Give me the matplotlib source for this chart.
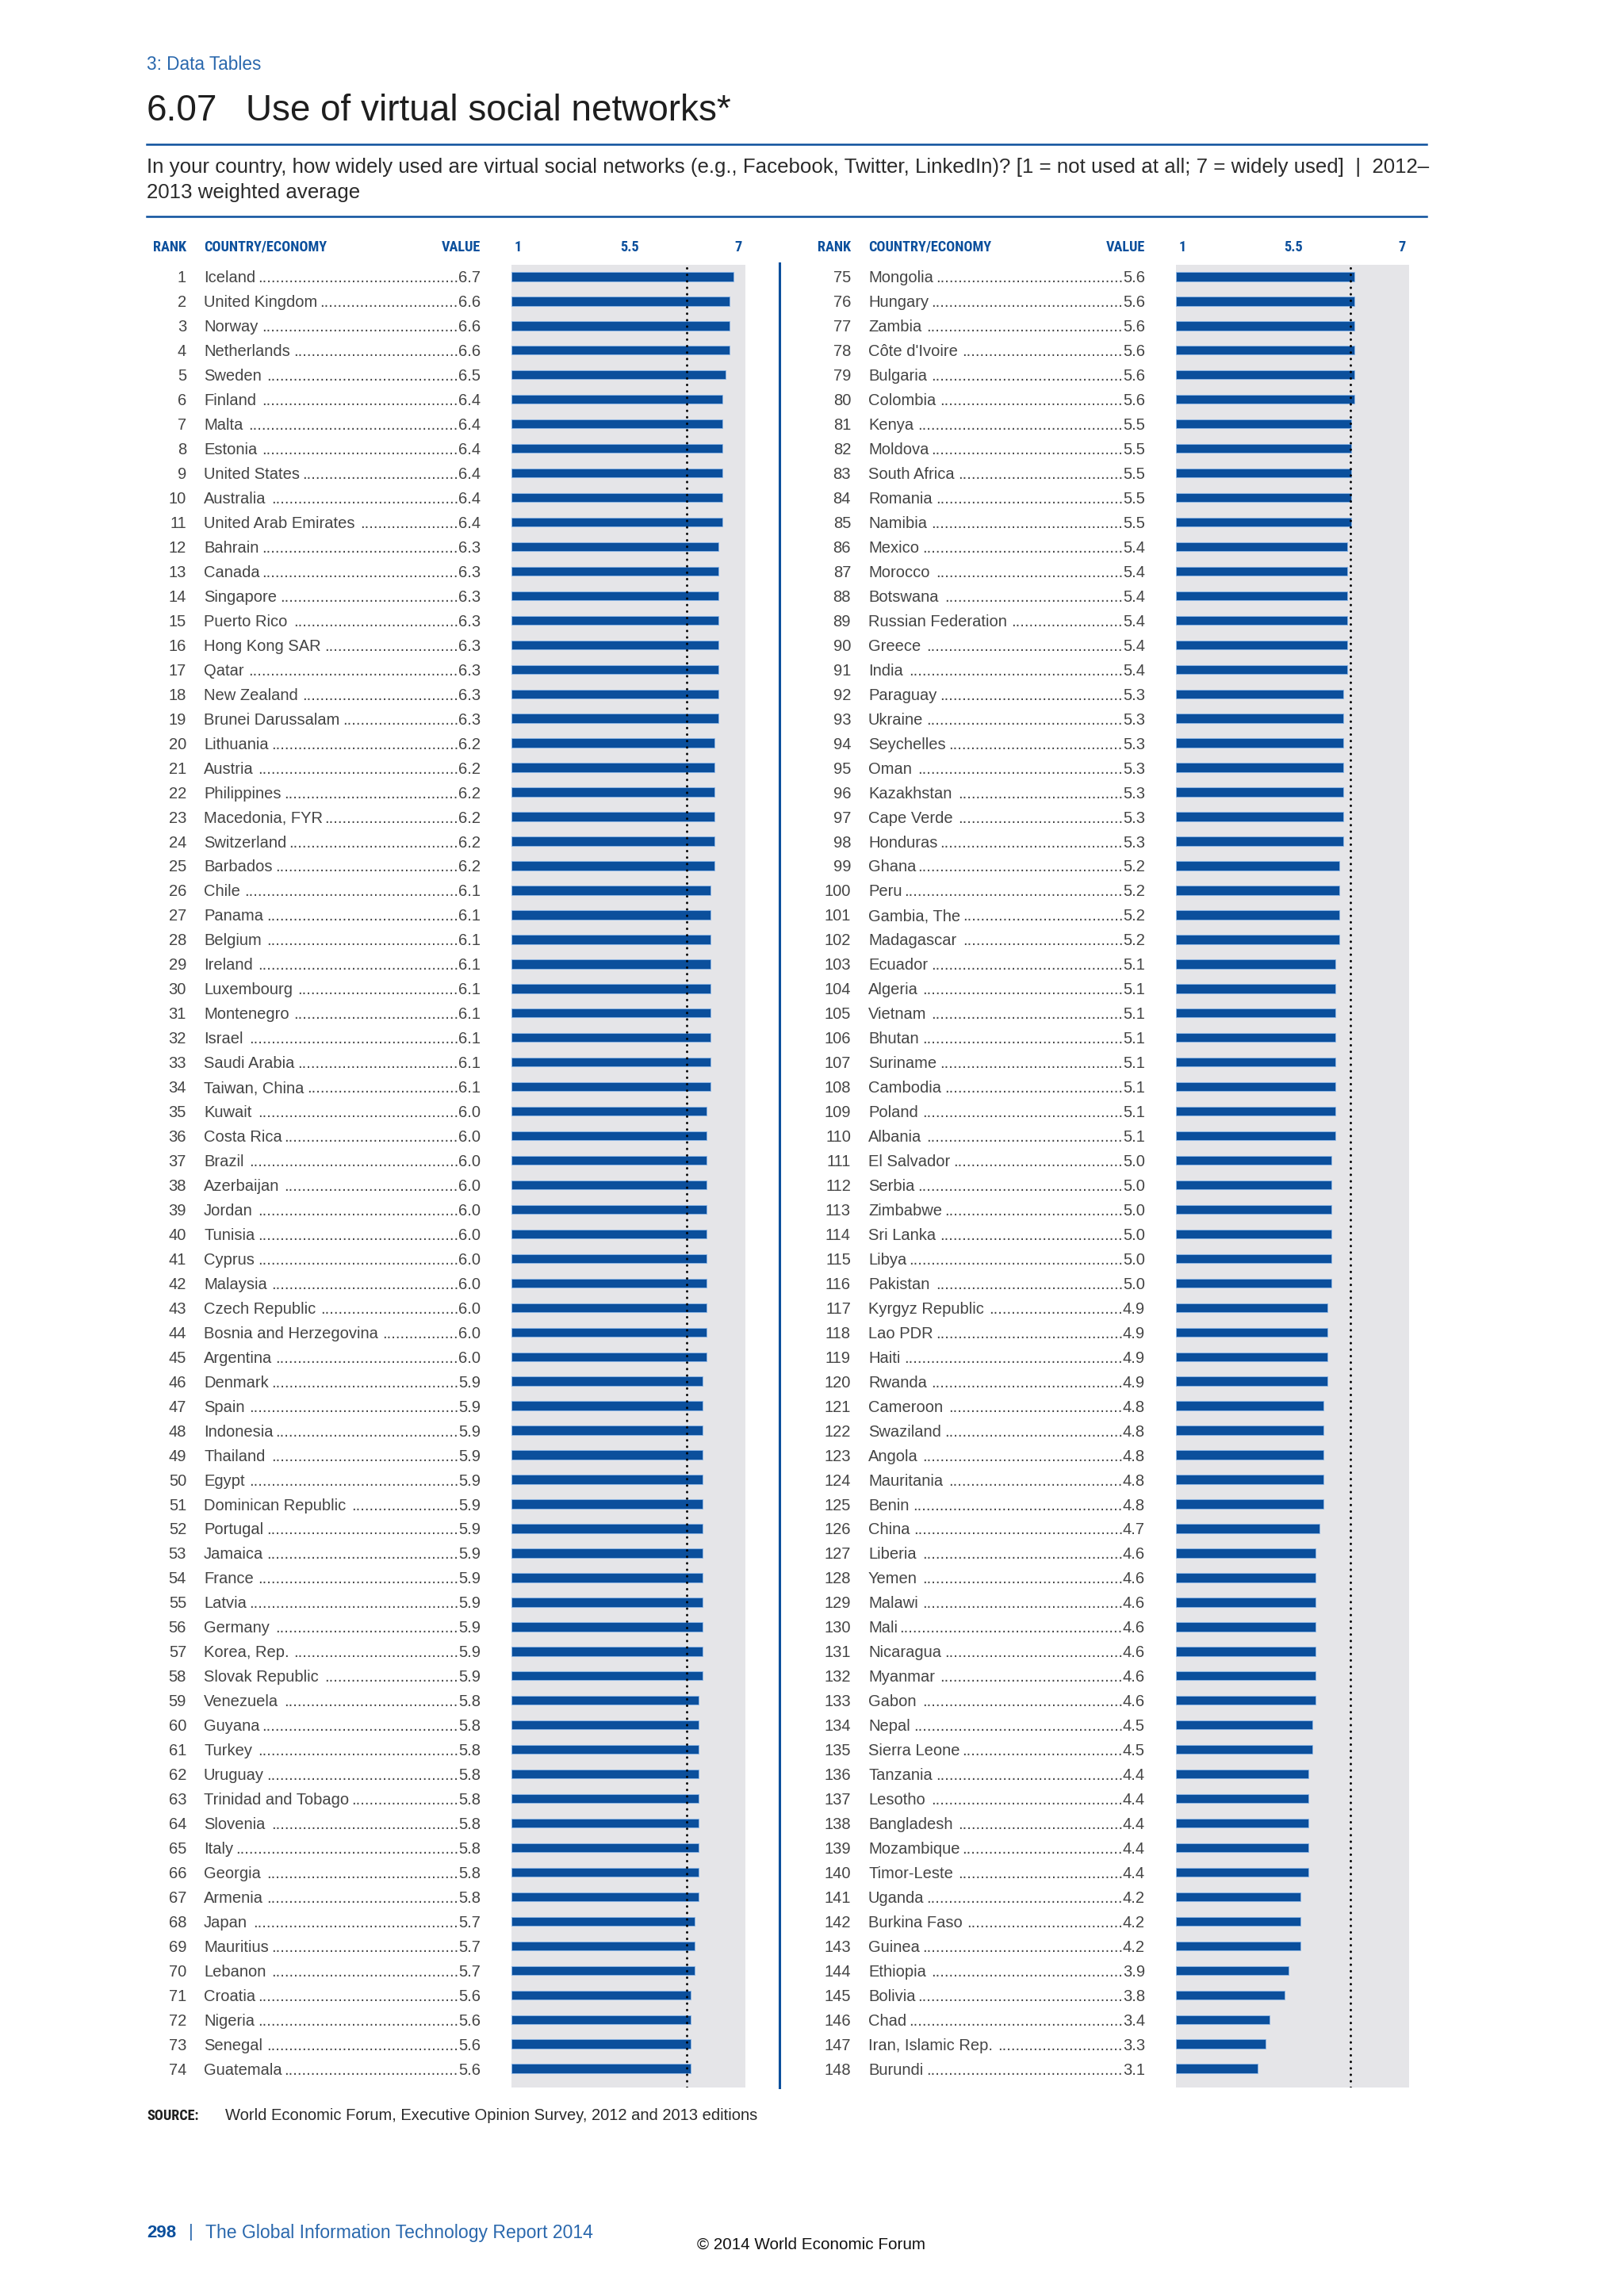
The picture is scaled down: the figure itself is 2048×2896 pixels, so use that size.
import matplotlib.pyplot as plt
from matplotlib import font_manager
from matplotlib.font_manager import FontProperties
from matplotlib.transforms import blended_transform_factory

plt.rcParams['font.family'] = ['Liberation Sans', 'DejaVu Sans']

countries = [
    "Iceland", "United Kingdom", "Norway", "Netherlands", "Sweden", "Finland",
    "Malta", "Estonia", "United States", "Australia", "United Arab Emirates",
    "Bahrain", "Canada", "Singapore", "Puerto Rico", "Hong Kong SAR", "Qatar",
    "New Zealand", "Brunei Darussalam", "Lithuania", "Austria", "Philippines",
    "Macedonia, FYR", "Switzerland", "Barbados", "Chile", "Panama", "Belgium",
    "Ireland", "Luxembourg", "Montenegro", "Israel", "Saudi Arabia",
    "Taiwan, China", "Kuwait", "Costa Rica", "Brazil", "Azerbaijan", "Jordan",
    "Tunisia", "Cyprus", "Malaysia", "Czech Republic", "Bosnia and Herzegovina",
    "Argentina", "Denmark", "Spain", "Indonesia", "Thailand", "Egypt",
    "Dominican Republic", "Portugal", "Jamaica", "France", "Latvia", "Germany",
    "Korea, Rep.", "Slovak Republic", "Venezuela", "Guyana", "Turkey", "Uruguay",
    "Trinidad and Tobago", "Slovenia", "Italy", "Georgia", "Armenia", "Japan",
    "Mauritius", "Lebanon", "Croatia", "Nigeria", "Senegal", "Guatemala",
    "Mongolia", "Hungary", "Zambia", "Côte d'Ivoire", "Bulgaria", "Colombia",
    "Kenya", "Moldova", "South Africa", "Romania", "Namibia", "Mexico",
    "Morocco", "Botswana", "Russian Federation", "Greece", "India", "Paraguay",
    "Ukraine", "Seychelles", "Oman", "Kazakhstan", "Cape Verde", "Honduras",
    "Ghana", "Peru", "Gambia, The", "Madagascar", "Ecuador", "Algeria",
    "Vietnam", "Bhutan", "Suriname", "Cambodia", "Poland", "Albania",
    "El Salvador", "Serbia", "Zimbabwe", "Sri Lanka", "Libya", "Pakistan",
    "Kyrgyz Republic", "Lao PDR", "Haiti", "Rwanda", "Cameroon", "Swaziland",
    "Angola", "Mauritania", "Benin", "China", "Liberia", "Yemen", "Malawi",
    "Mali", "Nicaragua", "Myanmar", "Gabon", "Nepal", "Sierra Leone",
    "Tanzania", "Lesotho", "Bangladesh", "Mozambique", "Timor-Leste", "Uganda",
    "Burkina Faso", "Guinea", "Ethiopia", "Bolivia", "Chad",
    "Iran, Islamic Rep.", "Burundi",
]
values = [
    6.7, 6.6, 6.6, 6.6, 6.5, 6.4, 6.4, 6.4, 6.4, 6.4, 6.4,
    6.3, 6.3, 6.3, 6.3, 6.3, 6.3, 6.3, 6.3, 6.2, 6.2, 6.2,
    6.2, 6.2, 6.2, 6.1, 6.1, 6.1, 6.1, 6.1, 6.1, 6.1, 6.1,
    6.1, 6.0, 6.0, 6.0, 6.0, 6.0, 6.0, 6.0, 6.0, 6.0, 6.0,
    6.0, 5.9, 5.9, 5.9, 5.9, 5.9, 5.9, 5.9, 5.9, 5.9, 5.9, 5.9,
    5.9, 5.9, 5.8, 5.8, 5.8, 5.8, 5.8, 5.8, 5.8, 5.8, 5.8, 5.7,
    5.7, 5.7, 5.6, 5.6, 5.6, 5.6,
    5.6, 5.6, 5.6, 5.6, 5.6, 5.6, 5.5, 5.5, 5.5, 5.5, 5.5, 5.4,
    5.4, 5.4, 5.4, 5.4, 5.4, 5.3, 5.3, 5.3, 5.3, 5.3, 5.3, 5.3,
    5.2, 5.2, 5.2, 5.2, 5.1, 5.1, 5.1, 5.1, 5.1, 5.1, 5.1, 5.1,
    5.0, 5.0, 5.0, 5.0, 5.0, 5.0, 4.9, 4.9, 4.9, 4.9, 4.8, 4.8,
    4.8, 4.8, 4.8, 4.7, 4.6, 4.6, 4.6, 4.6, 4.6, 4.6, 4.6, 4.5, 4.5,
    4.4, 4.4, 4.4, 4.4, 4.4, 4.2, 4.2, 4.2, 3.9, 3.8, 3.4, 3.3, 3.1,
]
ranks = list(range(1, len(countries) + 1))
mean_value = 5.49
scale_ticks = ["1", "5.5", "7"]

W, H = 2048, 2896
fig = plt.figure(figsize=(W / 100, H / 100), dpi=100)
page = fig.add_axes([0, 0, 1, 1])
page.set_xlim(0, W)
page.set_ylim(H, 0)
page.axis('off')
renderer = fig.canvas.get_renderer()

BLUE = '#0b4f9c'
LINK = '#2a68ad'
TXT = '#444444'
GRAY = '#e5e5e8'

# look for a condensed bold face for the small caps headings
cond_file = None
for f in font_manager.fontManager.ttflist:
    nm = f.name.lower()
    narrowish = ('narrow' in nm or 'condensed' in nm
                 or f.stretch in ('condensed', 'semi-condensed', 'extra-condensed'))
    if narrowish and f.weight in ('bold', 700, 'semibold', 600):
        cond_file = f.fname
        if 'liberation' in nm or 'roboto' in nm:
            break


def base_head(size):
    if cond_file:
        return FontProperties(fname=cond_file, size=size)
    return FontProperties(family='Liberation Sans', weight='bold', size=size)


# size the heading face so "COUNTRY/ECONOMY" spans ~155 px as in the print
probe = page.text(0, 0, "COUNTRY/ECONOMY", fontproperties=base_head(10))
head_size = 10 * 155 / probe.get_window_extent(renderer).width
probe.remove()


def head_font():
    return base_head(head_size)


# header
page.text(185, 81, "3: Data Tables", color=LINK, fontsize=16.3, va='center')
page.text(185, 140, "6.07", color='#1e1e1e', fontsize=33, va='center')
page.text(310, 140, "Use of virtual social networks*", color='#1e1e1e',
          fontsize=33, va='center')
page.plot([185, 1799], [182, 182], color=BLUE, lw=1.8)
page.text(185, 211, "In your country, how widely used are virtual social networks "
          "(e.g., Facebook, Twitter, LinkedIn)? [1 = not used at all; 7 = widely used]  |  2012–",
          color='#2a2a2a', fontsize=18.6, va='center')
page.text(185, 243, "2013 weighted average", color='#2a2a2a', fontsize=18.6, va='center')
page.plot([185, 1799], [273, 273], color=BLUE, lw=1.8)

TOP, BOT = 334, 2633
n_half = 74
per_col = [
    dict(rank_x=235, name_x=257, val_x=606, x0=645, x1=940),
    dict(rank_x=1073, name_x=1095, val_x=1444, x0=1483, x1=1777),
]

probe = page.text(0, 0, "." * 40, fontsize=14.5)
dot_w = probe.get_window_extent(renderer).width / 40
probe.remove()

for c, col in enumerate(per_col):
    names = countries[c * n_half:(c + 1) * n_half]
    vals = values[c * n_half:(c + 1) * n_half]
    rks = ranks[c * n_half:(c + 1) * n_half]
    x0, x1 = col['x0'], col['x1']
    ax = fig.add_axes([x0 / W, 1 - BOT / H, (x1 - x0) / W, (BOT - TOP) / H])
    ax.set_facecolor(GRAY)
    ypos = list(range(len(names)))
    ax.barh(ypos, [v - 1 for v in vals], left=1, height=0.37,
            color=BLUE, edgecolor='#8db8e8', linewidth=0.6)
    ax.axvline(mean_value, color='black', ls=(0, (0.1, 2.7)), lw=2.1,
               dash_capstyle='round')
    ax.set_xlim(1, 7)
    ax.set_ylim(73.77, -0.48)
    ax.set_xticks([])
    ax.set_yticks([])
    for s in ax.spines.values():
        s.set_visible(False)

    # column headings
    hy = 312
    page.text(col['rank_x'], hy, "RANK", color=BLUE, fontproperties=head_font(),
              ha='right', va='center')
    page.text(col['name_x'], hy, "COUNTRY/ECONOMY", color=BLUE,
              fontproperties=head_font(), ha='left', va='center')
    page.text(col['val_x'], hy, "VALUE", color=BLUE, fontproperties=head_font(),
              ha='right', va='center')
    page.text(x0 + 4, hy, scale_ticks[0], color=BLUE, fontproperties=head_font(),
              ha='left', va='center')
    page.text(x0 + 0.505 * (x1 - x0), hy, scale_ticks[1], color=BLUE,
              fontproperties=head_font(), ha='center', va='center')
    page.text(x1 - 4, hy, scale_ticks[2], color=BLUE, fontproperties=head_font(),
              ha='right', va='center')

    tr = blended_transform_factory(page.transData, ax.transData)
    for y, r, nm, v in zip(ypos, rks, names, vals):
        page.text(col['rank_x'], y, str(r), transform=tr, color=TXT,
                  fontsize=14.5, ha='right', va='center_baseline')
        t_name = page.text(col['name_x'], y, nm, transform=tr, color=TXT,
                           fontsize=14.5, ha='left', va='center_baseline')
        t_val = page.text(col['val_x'], y, f"{v:.1f}", transform=tr, color=TXT,
                          fontsize=14.5, ha='right', va='center_baseline')
        e_name = t_name.get_window_extent(renderer)
        e_val = t_val.get_window_extent(renderer)
        n_dots = int((e_val.x0 - e_name.x1 - 2) / dot_w)
        # dotted leader, ending right where the value begins
        end_x = page.transData.inverted().transform((e_val.x0, 0))[0]
        page.text(end_x, y, "." * max(n_dots, 0), transform=tr, color=TXT,
                  fontsize=14.5, ha='right', va='center_baseline')

# divider between the two halves
page.plot([983, 983], [332, BOT], color=BLUE, lw=2.2)

# source and footer
page.text(185, 2669, "SOURCE:", color='#1e1e1e', fontproperties=head_font(),
          va='center')
page.text(284, 2669, "World Economic Forum, Executive Opinion Survey, 2012 and 2013 editions",
          color='#2a2a2a', fontsize=14.5, va='center')
page.text(185, 2816, "298", color=BLUE, fontsize=16, fontweight='bold', va='center')
page.text(238, 2816, "|", color=LINK, fontsize=16, va='center')
page.text(259, 2816, "The Global Information Technology Report 2014", color=LINK,
          fontsize=16.6, va='center')
page.text(1023, 2831, "© 2014 World Economic Forum", color='#111111', fontsize=14.9,
          ha='center', va='center')

fig.savefig("out.png", dpi=100, facecolor='white')
